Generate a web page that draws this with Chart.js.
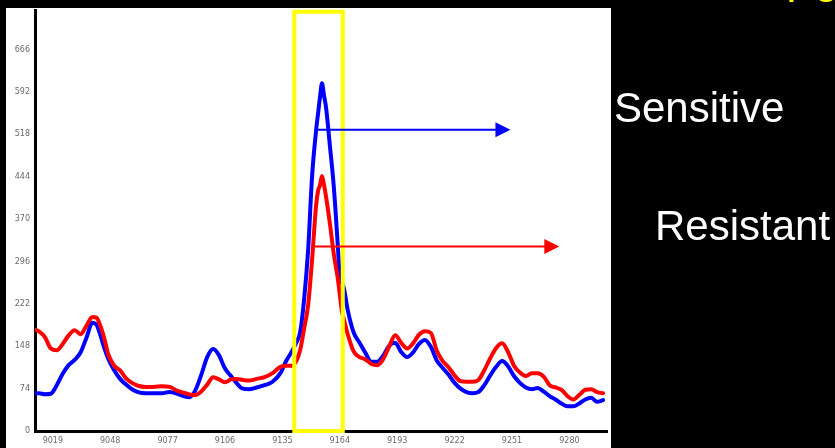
<!DOCTYPE html>
<html>
<head>
<meta charset="utf-8">
<script src="https://cdn.jsdelivr.net/npm/chart.js@4/dist/chart.umd.min.js"></script>
<style>
  html, body { margin: 0; padding: 0; background: #000; }
  #wrap { width: 835px; height: 448px; position: relative; }
  canvas { display: block; }
</style>
</head>
<body>
<div id="wrap"><canvas id="c" width="835" height="448"></canvas></div>
<script>
// ---- data ----
const wavenumbers = [9010,9012,9015,9018,9021,9024,9027,9030,9033,9036,9039,9041,9043,9045,9047,9050,9053,9056,9059,9062,9066,9070,9074,9078,9082,9085,9088,9091,9094,9097,9100,9103,9106,9109,9112,9115,9118,9122,9126,9130,9134,9137,9140,9142,9144,9146,9148,9150,9152,9153,9154,9155,9156,9157,9159,9161,9163,9164,9165,9166,9168,9171,9174,9177,9180,9183,9186,9189,9192,9195,9198,9201,9204,9207,9210,9213,9216,9219,9222,9225,9228,9231,9234,9237,9240,9243,9246,9249,9252,9255,9258,9261,9264,9267,9270,9273,9276,9279,9282,9285,9288,9291,9294,9297];
const sensitive = [66,66,64,65,80,100,115,124,137,163,189,186,168,145,126,106,91,81,73,68,66,66,66,68,65,61,59,71,98,129,143,132,109,96,83,74,73,76,80,86,101,123,140,154,173,231,316,445,524,554,583,607,586,566,498,425,323,269,259,250,211,172,154,136,121,121,132,149,154,138,129,137,152,159,147,123,110,98,84,74,68,66,68,80,97,112,122,113,96,84,76,73,75,69,61,55,48,43,43,48,55,58,51,54];
const resistant = [177,174,164,144,141,152,167,176,169,184,199,198,184,162,134,114,106,92,84,79,77,77,78,77,70,67,64,63,69,81,94,90,85,90,91,89,88,91,94,101,112,114,114,122,142,179,220,299,393,419,429,445,430,410,362,308,266,238,210,196,169,139,129,125,117,115,126,148,167,154,144,153,168,174,171,140,122,111,97,87,86,86,89,106,127,145,153,138,114,102,96,101,101,95,80,76,72,61,55,63,72,73,68,66];
const xTickValues = [9019,9048,9077,9106,9135,9164,9193,9222,9251,9280];
const yTickValues = [0,74,148,222,296,370,444,518,592,666];
const seriesNames = ["Sensitive","Resistant"];

// annotations (in data units)
const highlightX = [9141, 9165.5];
const highlightY = [0, 732];
const arrowSensitive = { x1: 9151.3, x2: 9250.2, y: 526 };
const arrowResistant = { x1: 9151.3, x2: 9274.9, y: 322 };

const BLUE = '#0000ff', RED = '#ff0000';

const panelPlugin = {
  id: 'panel',
  beforeDraw(chart) {
    const ctx = chart.ctx;
    ctx.save();
    ctx.fillStyle = '#000';
    ctx.fillRect(0, 0, chart.width, chart.height);
    ctx.fillStyle = '#fff';
    ctx.fillRect(6, 8, 605, 440);
    ctx.restore();
  }
};

function arrow(ctx, xs, ys, x1, x2, y, color) {
  const p1 = xs.getPixelForValue(x1), p2 = xs.getPixelForValue(x2), py = ys.getPixelForValue(y);
  const head = 15, half = 7.5;
  ctx.save();
  ctx.strokeStyle = color; ctx.fillStyle = color; ctx.lineWidth = 2;
  ctx.beginPath(); ctx.moveTo(p1, py); ctx.lineTo(p2 - head + 1, py); ctx.stroke();
  ctx.beginPath(); ctx.moveTo(p2, py); ctx.lineTo(p2 - head, py - half); ctx.lineTo(p2 - head, py + half); ctx.closePath(); ctx.fill();
  ctx.restore();
}

const overlayPlugin = {
  id: 'overlay',
  afterDatasetsDraw(chart) {
    const ctx = chart.ctx, xs = chart.scales.x, ys = chart.scales.y;
    // yellow highlight box
    const l = xs.getPixelForValue(highlightX[0]), r = xs.getPixelForValue(highlightX[1]);
    const t = ys.getPixelForValue(highlightY[1]), b = ys.getPixelForValue(highlightY[0]);
    ctx.save();
    ctx.strokeStyle = '#ffff00'; ctx.lineWidth = 4;
    ctx.strokeRect(l, t, r - l, b - t);
    ctx.restore();
    arrow(ctx, xs, ys, arrowSensitive.x1, arrowSensitive.x2, arrowSensitive.y, BLUE);
    arrow(ctx, xs, ys, arrowResistant.x1, arrowResistant.x2, arrowResistant.y, RED);
  },
  afterDraw(chart) {
    const ctx = chart.ctx;
    ctx.save();
    ctx.fillStyle = '#fff';
    ctx.font = '42px "Liberation Sans", Arial, sans-serif';
    ctx.textBaseline = 'alphabetic';
    ctx.textAlign = 'left';
    ctx.fillText(seriesNames[0], 614, 122);
    ctx.fillText(seriesNames[1], 655, 240);
    ctx.fillStyle = '#ffff00';
    ctx.fillText('Peak', 786, 2);
    ctx.restore();
  }
};

new Chart(document.getElementById('c'), {
  type: 'line',
  data: {
    labels: wavenumbers,
    datasets: [
      { label: seriesNames[1], data: wavenumbers.map((x, i) => ({ x, y: resistant[i] })),
        borderColor: RED, borderWidth: 4, pointRadius: 0, cubicInterpolationMode: 'monotone',
        borderJoinStyle: 'round', borderCapStyle: 'round', fill: false, order: 0 },
      { label: seriesNames[0], data: wavenumbers.map((x, i) => ({ x, y: sensitive[i] })),
        borderColor: BLUE, borderWidth: 4, pointRadius: 0, cubicInterpolationMode: 'monotone',
        borderJoinStyle: 'round', borderCapStyle: 'round', fill: false, order: 1 }
    ]
  },
  options: {
    responsive: false,
    animation: false,
    layout: { padding: { left: 5, top: 10, right: 228, bottom: 0 } },
    plugins: { legend: { display: false }, tooltip: { enabled: false } },
    scales: {
      x: {
        type: 'linear', min: 9010, max: 9299,
        afterBuildTicks: s => { s.ticks = xTickValues.map(v => ({ value: v })); },
        afterFit: s => { s.height = 17; },
        grid: { display: false, drawTicks: false },
        border: { display: true, color: '#000', width: 3 },
        ticks: { color: '#6a6a6a', font: { size: 8, family: 'DejaVu Sans' }, padding: 5,
                 maxRotation: 0, autoSkip: false, callback: v => String(v) }
      },
      y: {
        min: 0, max: 735,
        afterBuildTicks: s => { s.ticks = yTickValues.map(v => ({ value: v })); },
        afterFit: s => { s.width = 30; },
        grid: { display: false, drawTicks: false },
        border: { display: true, color: '#000', width: 3 },
        ticks: { color: '#6a6a6a', font: { size: 8, family: 'DejaVu Sans' }, padding: 5,
                 autoSkip: false, callback: v => String(v) }
      }
    }
  },
  plugins: [panelPlugin, overlayPlugin]
});
</script>
</body>
</html>
